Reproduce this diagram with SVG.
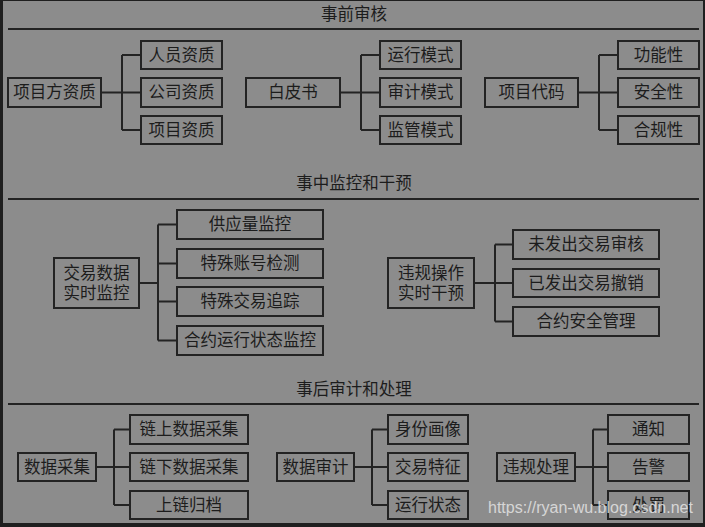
<svg xmlns="http://www.w3.org/2000/svg" width="705" height="527" viewBox="0 0 705 527">
<style>
.bg{fill:#1f1f1f}
.panel{fill:#8c8c8c}
.box{fill:none;stroke:#232323;stroke-width:2}
.ln{fill:none;stroke:#232323;stroke-width:2}
.hd{stroke:#232323;stroke-width:2}
text{font-family:"Liberation Serif","Noto Sans CJK SC",serif;fill:#1c1c1c;font-size:16.5px;text-anchor:middle;dominant-baseline:central}
.title{font-size:16.5px}
.wm{font-family:"Liberation Sans",Arial,sans-serif;fill:#e4e4e4;fill-opacity:0.85;font-size:16px;text-anchor:start;dominant-baseline:alphabetic}
</style>
<rect class="bg" x="0" y="0" width="705" height="527"/>
<rect class="panel" x="3" y="1" width="700" height="522"/>

<g id="headers">
<text class="title" x="354" y="14">事前审核</text>
<line class="hd" x1="8" y1="29" x2="699" y2="29"/>
<text class="title" x="354" y="183">事中监控和干预</text>
<line class="hd" x1="8" y1="199" x2="699" y2="199"/>
<text class="title" x="354" y="389">事后审计和处理</text>
<line class="hd" x1="8" y1="404" x2="699" y2="404"/>
</g>

<g id="connectors">
<path class="ln" d="M101 92.5H122M122 55V130M122 55H141M122 92.5H141M122 130H141"/>
<path class="ln" d="M340 92.5H361M361 55V130M361 55H380M361 92.5H380M361 130H380"/>
<path class="ln" d="M578 92.5H599M599 55V130M599 55H618M599 92.5H618M599 130H618"/>
<path class="ln" d="M139 283H158M158 224.5V340.5M158 224.5H177M158 263.5H177M158 301.5H177M158 340.5H177"/>
<path class="ln" d="M474 283H495M495 244.5V321.5M495 244.5H513M495 283H513M495 321.5H513"/>
<path class="ln" d="M96 467H114M114 429.5V505M114 429.5H130M114 467H130M114 505H130"/>
<path class="ln" d="M354 467H372M372 429.5V505M372 429.5H388M372 467H388M372 505H388"/>
<path class="ln" d="M575 467H593M593 429.5V505M593 429.5H608M593 467H608M593 505H608"/>
</g>

<g id="n-xmfzz"><rect class="box" x="8" y="78" width="93" height="29"/><text x="54.5" y="92.5">项目方资质</text></g>
<g id="n-ryzz"><rect class="box" x="141" y="41" width="81" height="28"/><text x="181.5" y="55">人员资质</text></g>
<g id="n-gszz"><rect class="box" x="141" y="78" width="81" height="29"/><text x="181.5" y="92.5">公司资质</text></g>
<g id="n-xmzz"><rect class="box" x="141" y="116" width="81" height="28"/><text x="181.5" y="130">项目资质</text></g>

<g id="n-bps"><rect class="box" x="246" y="78" width="94" height="29"/><text x="293" y="92.5">白皮书</text></g>
<g id="n-yxms"><rect class="box" x="380" y="41" width="81" height="28"/><text x="420.5" y="55">运行模式</text></g>
<g id="n-sjms"><rect class="box" x="380" y="78" width="81" height="29"/><text x="420.5" y="92.5">审计模式</text></g>
<g id="n-jgms"><rect class="box" x="380" y="116" width="81" height="28"/><text x="420.5" y="130">监管模式</text></g>

<g id="n-xmdm"><rect class="box" x="485" y="78" width="93" height="29"/><text x="531.5" y="92.5">项目代码</text></g>
<g id="n-gnx"><rect class="box" x="618" y="41" width="81" height="28"/><text x="658.5" y="55">功能性</text></g>
<g id="n-aqx"><rect class="box" x="618" y="78" width="81" height="29"/><text x="658.5" y="92.5">安全性</text></g>
<g id="n-hgx"><rect class="box" x="618" y="116" width="81" height="28"/><text x="658.5" y="130">合规性</text></g>

<g id="n-jysj"><rect class="box" x="54" y="258" width="85" height="50"/><text x="96.5" y="273">交易数据</text><text x="96.5" y="293">实时监控</text></g>
<g id="n-gyl"><rect class="box" x="177" y="210" width="146" height="29"/><text x="250" y="224.5">供应量监控</text></g>
<g id="n-tszh"><rect class="box" x="177" y="249" width="146" height="29"/><text x="250" y="263.5">特殊账号检测</text></g>
<g id="n-tsjy"><rect class="box" x="177" y="287" width="146" height="29"/><text x="250" y="301.5">特殊交易追踪</text></g>
<g id="n-hyyx"><rect class="box" x="177" y="326" width="146" height="29"/><text x="250" y="340.5">合约运行状态监控</text></g>

<g id="n-wgcz"><rect class="box" x="388" y="258" width="86" height="50"/><text x="431" y="273">违规操作</text><text x="431" y="293">实时干预</text></g>
<g id="n-wfc"><rect class="box" x="513" y="230" width="146" height="29"/><text x="586" y="244.5">未发出交易审核</text></g>
<g id="n-yfc"><rect class="box" x="513" y="269" width="146" height="28"/><text x="586" y="283">已发出交易撤销</text></g>
<g id="n-hyaq"><rect class="box" x="513" y="307" width="146" height="29"/><text x="586" y="321.5">合约安全管理</text></g>

<g id="n-sjcj"><rect class="box" x="18" y="453" width="78" height="28"/><text x="57" y="467">数据采集</text></g>
<g id="n-lssj"><rect class="box" x="130" y="415" width="118" height="29"/><text x="189" y="429.5">链上数据采集</text></g>
<g id="n-lxsj"><rect class="box" x="130" y="453" width="118" height="28"/><text x="189" y="467">链下数据采集</text></g>
<g id="n-slgd"><rect class="box" x="130" y="491" width="118" height="28"/><text x="189" y="505">上链归档</text></g>

<g id="n-sjsj"><rect class="box" x="277" y="453" width="77" height="28"/><text x="315.5" y="467">数据审计</text></g>
<g id="n-sfhx"><rect class="box" x="388" y="415" width="80" height="29"/><text x="428" y="429.5">身份画像</text></g>
<g id="n-jytz"><rect class="box" x="388" y="453" width="80" height="28"/><text x="428" y="467">交易特征</text></g>
<g id="n-yxzt"><rect class="box" x="388" y="491" width="80" height="28"/><text x="428" y="505">运行状态</text></g>

<g id="n-wgcl"><rect class="box" x="497" y="453" width="78" height="28"/><text x="536" y="467">违规处理</text></g>
<g id="n-tz"><rect class="box" x="608" y="415" width="81" height="29"/><text x="648.5" y="429.5">通知</text></g>
<g id="n-gj"><rect class="box" x="608" y="453" width="81" height="28"/><text x="648.5" y="467">告警</text></g>
<g id="n-cf"><rect class="box" x="608" y="491" width="81" height="28"/><text x="648.5" y="505">处罚</text></g>

<text class="wm" x="488" y="513" textLength="205" lengthAdjust="spacingAndGlyphs">https://ryan-wu.blog.csdn.net</text>
</svg>
